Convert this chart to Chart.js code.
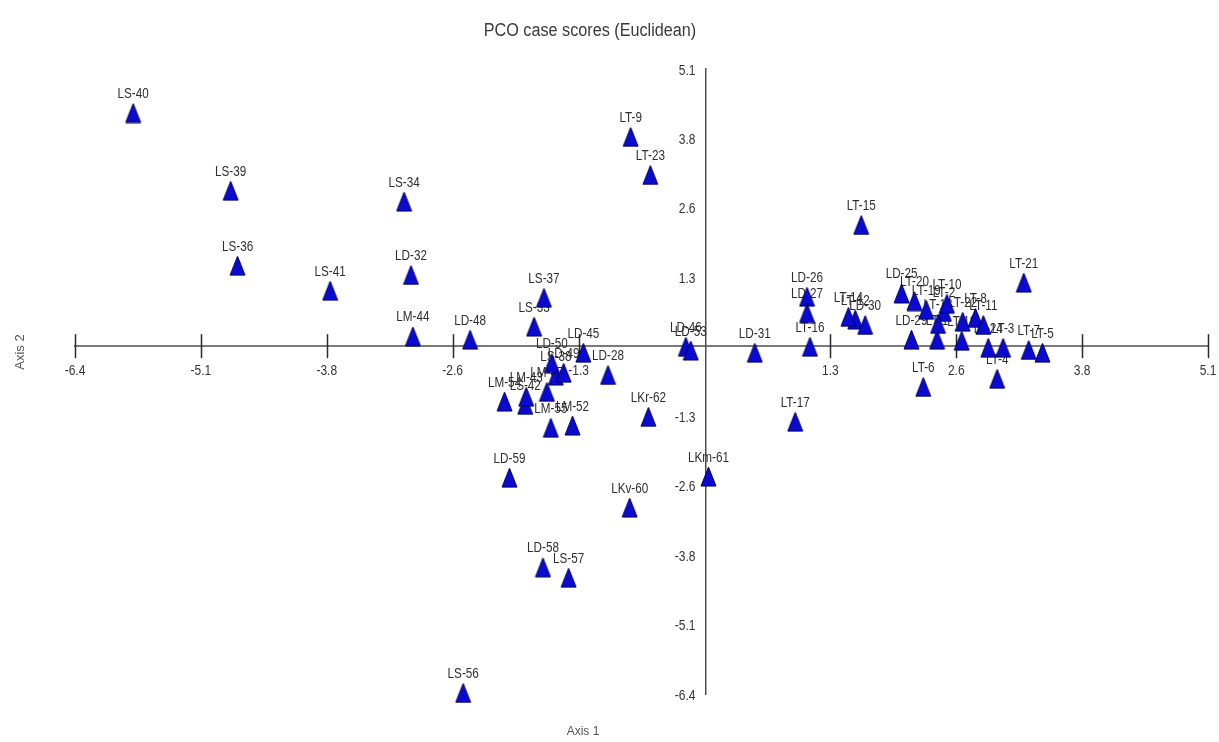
<!DOCTYPE html>
<html>
<head>
<meta charset="utf-8">
<title>PCO case scores (Euclidean)</title>
<script src="https://cdn.jsdelivr.net/npm/chart.js@4.4.1/dist/chart.umd.min.js"></script>
<style>
  html, body { margin: 0; padding: 0; background: #ffffff; }
  canvas { display: block; }
</style>
</head>
<body>
<canvas id="pco" width="1219" height="742"></canvas>
<script>
// Case names and their scores on the first two principal coordinates
const caseLabels = [
  'LT-1', 'LT-2', 'LT-3', 'LT-4', 'LT-5', 'LT-6', 'LT-7', 'LT-8', 'LT-9', 'LT-10',
  'LT-11', 'LT-12', 'LT-13', 'LT-14', 'LT-15', 'LT-16', 'LT-17', 'LT-18', 'LT-19', 'LT-20',
  'LT-21', 'LT-22', 'LT-23', 'LT-24',
  'LD-25', 'LD-26', 'LD-27', 'LD-28', 'LD-29', 'LD-30', 'LD-31', 'LD-32',
  'LS-33', 'LS-34', 'LS-36', 'LS-37', 'LS-38', 'LS-39', 'LS-40', 'LS-41',
  'LS-42', 'LM-43', 'LM-44', 'LD-45', 'LD-46', 'LM-47', 'LD-48', 'LD-49', 'LD-50',
  'LM-52', 'LD-53', 'LM-54', 'LM-55', 'LS-56', 'LS-57', 'LD-58', 'LD-59',
  'LKv-60', 'LKm-61', 'LKr-62'
];

const axis1Scores = [
  2.35, 2.42, 3.02, 2.96, 3.42, 2.21, 3.28, 2.74, -0.76, 2.45,
  2.82, 1.52, 2.36, 1.45, 1.58, 1.06, 0.91, 2.60, 2.24, 2.12,
  3.23, 2.61, -0.56, 2.87,
  1.99, 1.03, 1.03, -0.99, 2.09, 1.62, 0.50, -2.99,
  -1.74, -3.06, -4.75, -1.64, -1.52, -4.82, -5.81, -3.81,
  -1.83, -1.82, -2.97, -1.24, -0.20, -1.61, -2.39, -1.44, -1.56,
  -1.35, -0.15, -2.04, -1.57, -2.46, -1.39, -1.65, -1.99,
  -0.77, 0.03, -0.58
];

const axis2Scores = [
  0.12, 0.63, -0.03, -0.60, -0.12, -0.75, -0.07, 0.52, 3.85, 0.78,
  0.39, 0.49, 0.41, 0.54, 2.23, -0.01, -1.39, 0.10, 0.67, 0.83,
  1.17, 0.45, 3.15, -0.03,
  0.97, 0.91, 0.61, -0.53, 0.12, 0.39, -0.12, 1.31,
  0.36, 2.66, 1.48, 0.89, -0.54, 2.86, 4.29, 1.02,
  -1.08, -0.93, 0.18, -0.12, -0.01, -0.84, 0.12, -0.49, -0.31,
  -1.46, -0.08, -1.02, -1.50, -6.38, -4.26, -4.07, -2.42,
  -2.97, -2.40, -1.30
];

// Axis extent and tick labels (ten evenly spaced ticks per axis)
const axisRange = [-6.4, 5.1];
const xTickLabels = ['-6.4', '-5.1', '-3.8', '-2.6', '-1.3', '', '1.3', '2.6', '3.8', '5.1'];
const yTickLabels = ['-6.4', '-5.1', '-3.8', '-2.6', '-1.3', '', '1.3', '2.6', '3.8', '5.1'];

const TEXT_FONT = '"Liberation Sans", Arial, sans-serif';

// Upright blue triangle marker, slightly taller than wide
function makeTriangle(w, h, fill, stroke) {
  const c = document.createElement('canvas');
  c.width = w + 2;
  c.height = h + 2;
  const g = c.getContext('2d');
  g.beginPath();
  g.moveTo((w + 2) / 2, 1);
  g.lineTo(w + 1, h + 1);
  g.lineTo(1, h + 1);
  g.closePath();
  g.fillStyle = fill;
  g.fill();
  g.lineWidth = 1;
  g.strokeStyle = stroke;
  g.stroke();
  return c;
}
const triangleMarker = makeTriangle(15, 19, '#0a0ad0', '#00005e');

function evenTicks(labels) {
  const step = (axisRange[1] - axisRange[0]) / (labels.length - 1);
  return labels.map((_, i) => ({ value: axisRange[0] + i * step }));
}

// Horizontally condensed text
function condensedText(ctx, text, x, y, size, sx, color, align) {
  ctx.save();
  ctx.translate(x, y);
  ctx.scale(sx, 1);
  ctx.font = size + 'px ' + TEXT_FONT;
  ctx.fillStyle = color;
  ctx.textAlign = align || 'center';
  ctx.textBaseline = 'alphabetic';
  ctx.fillText(text, 0, 0);
  ctx.restore();
}

// Tick marks and tick labels on the crossing axes, plus case labels beneath the markers
const underlayPlugin = {
  id: 'underlay',
  beforeDatasetsDraw(chart) {
    const ctx = chart.ctx;
    const xs = chart.scales.x, ys = chart.scales.y;
    const y0 = ys.getPixelForValue(0);
    const x0 = xs.getPixelForValue(0);

    ctx.save();
    ctx.strokeStyle = '#2a2a2a';
    ctx.lineWidth = 1.5;
    xs.ticks.forEach((t, i) => {
      if (xTickLabels[i] === '') return;
      const px = Math.round(xs.getPixelForTick(i)) + 0.5;
      ctx.beginPath();
      ctx.moveTo(px, y0 - 12);
      ctx.lineTo(px, y0 + 12);
      ctx.stroke();
    });
    ctx.restore();

    xs.ticks.forEach((t, i) => {
      if (xTickLabels[i] === '') return;
      condensedText(ctx, xTickLabels[i], xs.getPixelForTick(i), y0 + 29, 15, 0.8, '#333333', 'center');
    });
    ys.ticks.forEach((t, i) => {
      if (yTickLabels[i] === '') return;
      condensedText(ctx, yTickLabels[i], x0 - 10, ys.getPixelForTick(i) + 5.5, 15, 0.8, '#333333', 'right');
    });

    const meta = chart.getDatasetMeta(0);
    meta.data.forEach((pt, i) => {
      condensedText(ctx, caseLabels[i], pt.x, pt.y - 15, 15, 0.78, '#2e2e2e', 'center');
    });
  }
};

// Title and axis names
const captionPlugin = {
  id: 'captions',
  afterDraw(chart) {
    const ctx = chart.ctx;
    condensedText(ctx, 'PCO case scores (Euclidean)', 590, 36, 18, 0.9, '#3a3a3a', 'center');
    condensedText(ctx, 'Axis 1', 583, 735, 12, 1, '#555555', 'center');
    ctx.save();
    ctx.translate(24, 352);
    ctx.rotate(-Math.PI / 2);
    ctx.font = '13px ' + TEXT_FONT;
    ctx.fillStyle = '#555555';
    ctx.textAlign = 'center';
    ctx.textBaseline = 'alphabetic';
    ctx.fillText('Axis 2', 0, 0);
    ctx.restore();
  }
};

const points = caseLabels.map((_, i) => ({ x: axis1Scores[i], y: axis2Scores[i] }));

new Chart(document.getElementById('pco'), {
  type: 'scatter',
  data: {
    datasets: [{
      data: points,
      pointStyle: triangleMarker,
      pointRadius: 10,
      pointHoverRadius: 10,
      clip: false
    }]
  },
  options: {
    responsive: false,
    animation: false,
    devicePixelRatio: 1,
    events: [],
    layout: { padding: { left: 75, right: 3.5, top: 69, bottom: 48 } },
    plugins: {
      legend: { display: false },
      tooltip: { enabled: false },
      title: { display: false }
    },
    scales: {
      x: {
        type: 'linear',
        min: axisRange[0],
        max: axisRange[1],
        position: { y: 0 },
        afterBuildTicks: (s) => { s.ticks = evenTicks(xTickLabels); },
        afterFit: (s) => { s.paddingLeft = 0; s.paddingRight = 0; },
        grid: { display: false, drawOnChartArea: false, drawTicks: false },
        border: { display: true, color: '#7a7a7a', width: 2 },
        ticks: { display: false, autoSkip: false, maxRotation: 0 }
      },
      y: {
        type: 'linear',
        min: axisRange[0],
        max: axisRange[1],
        position: { x: 0 },
        afterBuildTicks: (s) => { s.ticks = evenTicks(yTickLabels); },
        afterFit: (s) => { s.paddingTop = 0; s.paddingBottom = 0; },
        grid: { display: false, drawOnChartArea: false, drawTicks: false },
        border: { display: true, color: '#505050', width: 1.5 },
        ticks: { display: false, autoSkip: false }
      }
    }
  },
  plugins: [underlayPlugin, captionPlugin]
});
</script>
</body>
</html>
